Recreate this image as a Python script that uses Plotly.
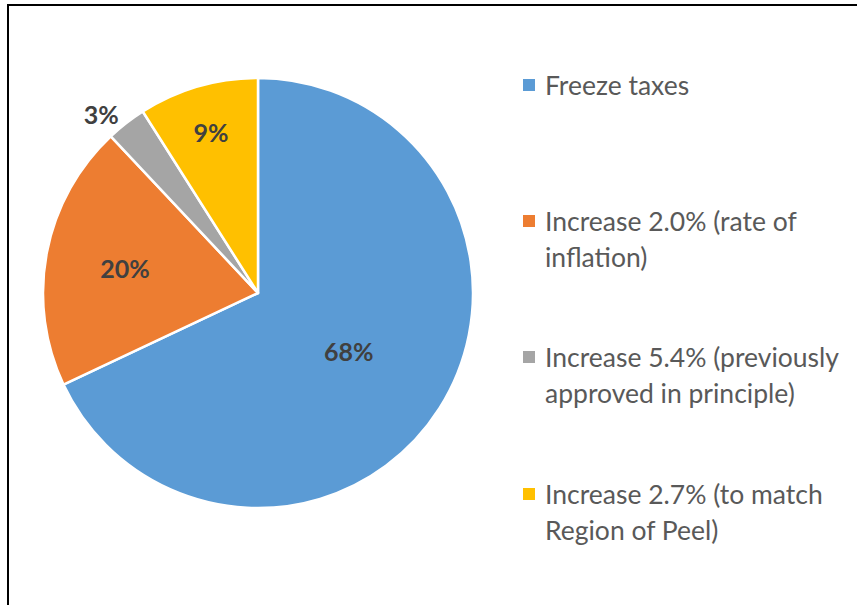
import plotly.graph_objects as go

# ---- data ----
labels = [
    "Freeze taxes",
    "Increase 2.0% (rate of inflation)",
    "Increase 5.4% (previously approved in principle)",
    "Increase 2.7% (to match Region of Peel)",
]
values = [68, 20, 3, 9]
legend_lines = [
    ["Freeze taxes"],
    ["Increase 2.0% (rate of", "inflation)"],
    ["Increase 5.4% (previously", "approved in principle)"],
    ["Increase 2.7% (to match", "Region of Peel)"],
]
colors = ["#5B9BD5", "#ED7D31", "#A5A5A5", "#FFC000"]
text_positions = ["inside", "inside", "outside", "inside"]

W, H = 857, 605
FONT = "Lato, Carlito, Calibri, sans-serif"

fig = go.Figure()
fig.add_trace(go.Pie(
    labels=labels,
    values=values,
    sort=False,
    direction="clockwise",
    rotation=0,
    marker=dict(colors=colors, line=dict(color="white", width=2.5)),
    texttemplate="%{percent:.0%}",
    textposition=text_positions,
    insidetextorientation="horizontal",
    textfont=dict(family=FONT, size=25, color="#404040", weight="bold"),
    showlegend=False,
    automargin=False,
    hoverinfo="label+percent",
    domain=dict(x=[43 / W, 473 / W], y=[(H - 508) / H, (H - 78) / H]),
))

# ---- custom legend (Excel-style spacing) ----
item_tops = [85, 221, 357, 494]   # pixel y of the first line of each item
line_gap = 36
sq = 12
shapes = []
annotations = []
for i, lines in enumerate(legend_lines):
    y0 = item_tops[i]
    shapes.append(dict(
        type="rect", xref="paper", yref="paper",
        x0=523 / W, x1=(523 + sq) / W,
        y0=(H - (y0 - sq / 2)) / H, y1=(H - (y0 + sq / 2)) / H,
        fillcolor=colors[i], line=dict(width=0),
    ))
    for j, ln in enumerate(lines):
        annotations.append(dict(
            text=ln, xref="paper", yref="paper",
            x=543 / W, y=(H - (y0 + j * line_gap)) / H,
            xanchor="left", yanchor="middle", showarrow=False,
            font=dict(family=FONT, size=26.5, color="#595959"),
        ))

# ---- outer frame of the original chart area ----
shapes.append(dict(type="line", xref="paper", yref="paper",
                   x0=8 / W, x1=8 / W, y0=0, y1=(H - 4) / H,
                   line=dict(color="black", width=2)))
shapes.append(dict(type="line", xref="paper", yref="paper",
                   x0=7 / W, x1=1, y0=(H - 5) / H, y1=(H - 5) / H,
                   line=dict(color="black", width=2)))

fig.update_layout(
    width=W, height=H,
    margin=dict(l=0, r=0, t=0, b=0),
    paper_bgcolor="white",
    plot_bgcolor="white",
    shapes=shapes,
    annotations=annotations,
    font=dict(family=FONT),
)

fig.write_html("out.html",
               config={"displayModeBar": False},
               post_script="document.body.style.margin='0';")
